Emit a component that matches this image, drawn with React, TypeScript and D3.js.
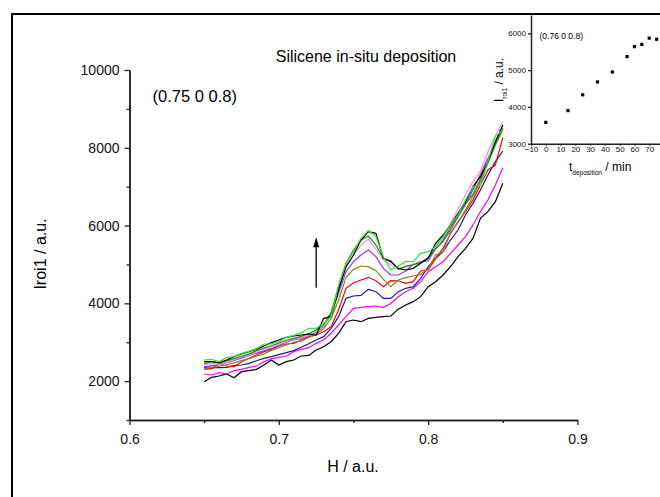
import * as d3 from "d3";
import { useEffect, useRef } from "react";

// ---- data ----
const hValues = [
  0.65, 0.655, 0.66, 0.665, 0.67, 0.675, 0.68, 0.685, 0.69, 0.695,
  0.7, 0.705, 0.71, 0.715, 0.72, 0.725, 0.73, 0.735, 0.74, 0.745,
  0.75, 0.755, 0.76, 0.765, 0.77, 0.775, 0.78, 0.785, 0.79, 0.795,
  0.8, 0.805, 0.81, 0.815, 0.82, 0.825, 0.83, 0.835, 0.84, 0.845, 0.85,
];

// one curve per deposition time (Iroi1 vs H)
const curve0 = [1985, 2097, 2131, 2183, 2088, 2243, 2268, 2303, 2414, 2543, 2414, 2500, 2543, 2646, 2660, 2800, 2885, 3014, 3229, 3528, 3571, 3528, 3614, 3640, 3657, 3674, 3850, 3957, 4043, 4171, 4428, 4557, 4728, 4943, 5200, 5414, 5671, 6186, 6357, 6614, 7086];
const curve15 = [2183, 2157, 2217, 2183, 2268, 2303, 2355, 2388, 2500, 2577, 2612, 2646, 2757, 2817, 2860, 2971, 3057, 3229, 3443, 3657, 3871, 3897, 3914, 3931, 3897, 3994, 4170, 4300, 4386, 4557, 4814, 4943, 5071, 5286, 5500, 5714, 6014, 6357, 6657, 7043, 7489];
const curve25 = [2345, 2337, 2345, 2354, 2397, 2414, 2457, 2525, 2586, 2628, 2680, 2731, 2783, 2869, 2960, 3057, 3143, 3357, 3657, 4128, 4188, 4205, 4360, 4300, 4128, 4128, 4300, 4386, 4428, 4643, 4943, 5157, 5329, 5629, 5886, 6271, 6571, 6914, 7300, 7643, 7917];
const curve35 = [2303, 2320, 2440, 2389, 2371, 2500, 2586, 2671, 2757, 2817, 2903, 2954, 2971, 3057, 3143, 3186, 3271, 3400, 3829, 4386, 4531, 4600, 4669, 4583, 4428, 4583, 4580, 4514, 4557, 4831, 4857, 5157, 5414, 5800, 6100, 6357, 6657, 7043, 7429, 7557, 8259];
const curve45 = [2300, 2400, 2380, 2420, 2470, 2530, 2580, 2640, 2700, 2790, 2860, 2930, 3000, 3030, 3120, 3200, 3350, 3614, 4086, 4669, 4874, 4960, 4943, 4840, 4617, 4428, 4600, 4660, 4703, 4746, 4883, 5243, 5311, 5826, 6083, 6400, 6743, 7129, 7600, 8071, 8457];
const curve55 = [2371, 2390, 2430, 2470, 2530, 2590, 2660, 2720, 2780, 2840, 2920, 3000, 3060, 3100, 3170, 3260, 3400, 3743, 4257, 4814, 5071, 5243, 5371, 5200, 4900, 4729, 4729, 4831, 5003, 5071, 5089, 5414, 5586, 5886, 6229, 6546, 6914, 7317, 7729, 8114, 8500];
const curve60 = [2420, 2450, 2430, 2480, 2550, 2620, 2680, 2750, 2830, 2890, 2950, 3020, 3080, 3120, 3180, 3280, 3420, 3700, 4343, 4926, 5243, 5500, 5646, 5389, 5114, 4986, 4880, 4943, 5003, 5054, 5140, 5483, 5671, 6057, 6426, 6786, 7129, 7403, 7883, 8311, 8670];
const curve65 = [2450, 2500, 2460, 2520, 2580, 2640, 2700, 2780, 2850, 2910, 2980, 3050, 3100, 3150, 3220, 3320, 3460, 3760, 4428, 5029, 5371, 5629, 5731, 5500, 5157, 5097, 4880, 4950, 4990, 5050, 5170, 5400, 5620, 5950, 6250, 6550, 6800, 7200, 7650, 8130, 8500];
const curve70 = [2500, 2500, 2474, 2543, 2629, 2697, 2757, 2817, 2903, 2989, 3057, 3126, 3160, 3186, 3211, 3186, 3614, 3657, 4343, 4943, 5243, 5629, 5843, 5800, 5157, 5071, 4900, 4857, 4900, 5029, 5157, 5543, 5757, 6014, 6314, 6614, 7000, 7257, 7643, 8157, 8586];
const curve75 = [2543, 2560, 2500, 2603, 2629, 2714, 2766, 2834, 2954, 2954, 3014, 3126, 3177, 3246, 3357, 3357, 3486, 3657, 4471, 5029, 5329, 5671, 5869, 5714, 5200, 4857, 4960, 5071, 5071, 5286, 5329, 5457, 5714, 6014, 6271, 6657, 7000, 7043, 7643, 8286, 8457];

const curves = [curve0, curve15, curve25, curve35, curve45, curve55, curve60, curve65, curve70, curve75];
const curveColors = ["#000000", "#ff00ff", "#1a1a9a", "#ff0000", "#8a8a10", "#9933ff", "#ff88ff", "#1f8a1f", "#000000", "#22ee22"];

// inset: peak intensity vs deposition time
const depositionTimes = [0, 15, 25, 35, 45, 55, 60, 65, 70, 75];
const peakIntensity = [3580, 3900, 4330, 4680, 4950, 5370, 5640, 5700, 5870, 5840];

// ticks
const yMajor = [2000, 4000, 6000, 8000, 10000];
const yMinor = [1000, 3000, 5000, 7000, 9000];
const xMajor = [0.6, 0.7, 0.8, 0.9];
const xMinor = [0.65, 0.75, 0.85];
const insetYTicks = [3000, 4000, 5000, 6000];
const insetXTicks = [-10, 0, 10, 20, 30, 40, 50, 60, 70, 80];

// arrow annotation (H, from, to)
const arrowH = 0.725;
const arrowFrom = 4400;
const arrowTo = 5700;

const FONT = "'Liberation Sans', Arial, sans-serif";

export default function App() {
  const ref = useRef<SVGSVGElement | null>(null);

  useEffect(() => {
    const width = 660;
    const height = 497;
    const svg = d3.select(ref.current).attr("viewBox", `0 0 ${width} ${height}`);
    svg.selectAll("*").remove();

    // ---- frame ----
    svg.append("rect")
      .attr("x", 12).attr("y", 14)
      .attr("width", 700).attr("height", 540)
      .attr("fill", "none").attr("stroke", "#000").attr("stroke-width", 2);

    // ---- main scales ----
    const x = d3.scaleLinear().domain([0.6, 0.9]).range([129.5, 577.5]);
    const y = d3.scaleLinear().domain([1000, 10000]).range([420, 70]);

    const styleAxis = (g: any, size: number) => {
      g.attr("font-family", FONT).attr("font-size", size);
      g.select(".domain").attr("stroke", "#222").attr("stroke-width", 1.5);
      g.selectAll(".tick line").attr("stroke", "#222").attr("stroke-width", 1.3);
      g.selectAll(".tick text").attr("fill", "#111");
    };

    // y minor + major
    svg.append("g").attr("transform", "translate(129.5,0)")
      .call(d3.axisLeft(y).tickValues(yMinor).tickSize(3).tickSizeOuter(0).tickFormat(() => ""))
      .call((g: any) => styleAxis(g, 14));
    svg.append("g").attr("transform", "translate(129.5,0)")
      .call(d3.axisLeft(y).tickValues(yMajor).tickSize(5).tickSizeOuter(0).tickPadding(5).tickFormat(d3.format("d")))
      .call((g: any) => styleAxis(g, 14));

    // x minor + major
    svg.append("g").attr("transform", "translate(0,420)")
      .call(d3.axisBottom(x).tickValues(xMinor).tickSize(3).tickSizeOuter(0).tickFormat(() => ""))
      .call((g: any) => styleAxis(g, 14));
    svg.append("g").attr("transform", "translate(0,420)")
      .call(d3.axisBottom(x).tickValues(xMajor).tickSize(5).tickSizeOuter(0).tickPadding(9).tickFormat(d3.format(".1f")))
      .call((g: any) => styleAxis(g, 14));

    // ---- curves ----
    const line = d3.line<number>().x((_, i) => x(hValues[i])).y((d) => y(d));
    curves.forEach((c, k) => {
      svg.append("path")
        .attr("d", line(c))
        .attr("fill", "none")
        .attr("stroke", curveColors[k])
        .attr("stroke-width", 1.2);
    });

    // ---- arrow ----
    const ax = x(arrowH);
    svg.append("line")
      .attr("x1", ax).attr("x2", ax)
      .attr("y1", y(arrowFrom)).attr("y2", y(arrowTo) + 8)
      .attr("stroke", "#000").attr("stroke-width", 1.3);
    svg.append("path")
      .attr("d", `M${ax},${y(arrowTo)} L${ax - 3},${y(arrowTo) + 10} L${ax + 3},${y(arrowTo) + 10} Z`)
      .attr("fill", "#000");

    // ---- texts ----
    svg.append("text").attr("x", 366).attr("y", 62).attr("text-anchor", "middle")
      .attr("font-family", FONT).attr("font-size", 16).text("Silicene in-situ deposition");
    svg.append("text").attr("x", 152.5).attr("y", 101.5)
      .attr("font-family", FONT).attr("font-size", 16.5).text("(0.75 0 0.8)");
    svg.append("text").attr("x", 353).attr("y", 472).attr("text-anchor", "middle")
      .attr("font-family", FONT).attr("font-size", 16).text("H / a.u.");
    svg.append("text").attr("transform", "translate(46,254) rotate(-90)").attr("text-anchor", "middle")
      .attr("font-family", FONT).attr("font-size", 16).text("Iroi1 / a.u.");

    // ---- inset ----
    const ix = d3.scaleLinear().domain([-10, 80]).range([531, 664]);
    const iy = d3.scaleLinear().domain([3000, 6500]).range([143.7, 15]);

    svg.append("g").attr("transform", "translate(531,0)")
      .call(d3.axisLeft(iy).tickValues(insetYTicks).tickSize(3).tickSizeOuter(0).tickPadding(2).tickFormat(d3.format("d")))
      .call((g: any) => styleAxis(g, 8));
    svg.append("g").attr("transform", "translate(0,143.7)")
      .call(d3.axisBottom(ix).tickValues(insetXTicks).tickSize(2).tickSizeOuter(0).tickPadding(1).tickFormat(d3.format("d")))
      .call((g: any) => styleAxis(g, 8));

    svg.append("g").selectAll("rect")
      .data(depositionTimes)
      .join("rect")
      .attr("x", (d) => ix(d) - 1.6)
      .attr("y", (_, i) => iy(peakIntensity[i]) - 1.6)
      .attr("width", 3.2).attr("height", 3.2)
      .attr("fill", "#000");

    svg.append("text").attr("x", 539.5).attr("y", 38.5)
      .attr("font-family", FONT).attr("font-size", 8.5).text("(0.76 0 0.8)");

    const xt = svg.append("text").attr("x", 569).attr("y", 170.5)
      .attr("font-family", FONT).attr("font-size", 12);
    xt.append("tspan").text("t");
    xt.append("tspan").attr("font-size", 6.5).attr("dy", 4).text("deposition");
    xt.append("tspan").attr("dy", -4).text(" / min");

    const yt = svg.append("text").attr("transform", "translate(503,80) rotate(-90)").attr("text-anchor", "middle")
      .attr("font-family", FONT).attr("font-size", 12);
    yt.append("tspan").text("I");
    yt.append("tspan").attr("font-size", 6.5).attr("dy", 4).text("roi1");
    yt.append("tspan").attr("dy", -4).text(" / a.u.");
  }, []);

  return (
    <svg
      ref={ref}
      width={660}
      height={497}
      style={{ position: "absolute", left: 0, top: 0, background: "#fff" }}
    />
  );
}
